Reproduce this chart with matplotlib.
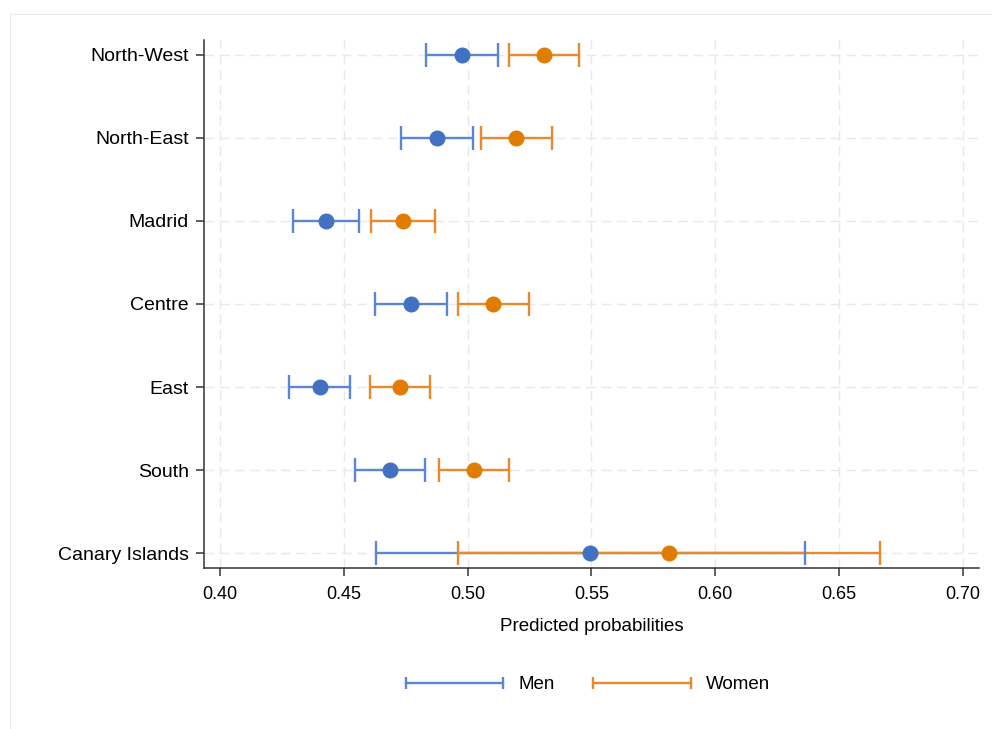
import numpy as np
import matplotlib.pyplot as plt
import matplotlib as mpl
from matplotlib.lines import Line2D
from matplotlib.patches import Rectangle

mpl.rcParams.update({
    "font.family": ["Liberation Sans", "DejaVu Sans"],
    "font.size": 13.5,
    "axes.linewidth": 1.1,
    "axes.edgecolor": "#333333",
})

regions = ["North-West", "North-East", "Madrid", "Centre", "East", "South", "Canary Islands"]

men_est = [0.4978, 0.4875, 0.4428, 0.4771, 0.4404, 0.4685, 0.5494]
men_lo = [0.4833, 0.4730, 0.4294, 0.4627, 0.4280, 0.4544, 0.4630]
men_hi = [0.5124, 0.5020, 0.4561, 0.4915, 0.4526, 0.4828, 0.6362]

women_est = [0.5308, 0.5195, 0.4740, 0.5103, 0.4727, 0.5026, 0.5813]
women_lo = [0.5168, 0.5053, 0.4608, 0.4961, 0.4604, 0.4885, 0.4961]
women_hi = [0.5451, 0.5339, 0.4869, 0.5246, 0.4849, 0.5168, 0.6665]

xticks = [0.40, 0.45, 0.50, 0.55, 0.60, 0.65, 0.70]

BLUE_LINE, BLUE_DOT = "#5B86D1", "#4271C4"
ORANGE_LINE, ORANGE_DOT = "#E88A2C", "#E07C00"

fig = plt.figure(figsize=(9.92, 7.29), dpi=100)
ax = fig.add_axes([0.2056, 0.2209, 0.7813, 0.7242])

# faint outer frame
fig.patches.append(Rectangle((10 / 992, -0.05), 1.2, 1 - 14 / 729 + 0.05,
                             transform=fig.transFigure, fill=False,
                             edgecolor="#E4ECEC", linewidth=0.8))

y = np.arange(len(regions))

series = [
    (men_est, men_lo, men_hi, BLUE_LINE, BLUE_DOT),
    (women_est, women_lo, women_hi, ORANGE_LINE, ORANGE_DOT),
]
for k, (est, lo, hi, lc, dc) in enumerate(series):
    est = np.array(est)
    err = np.vstack([est - np.array(lo), np.array(hi) - est])
    eb = ax.errorbar(est, y, xerr=err, fmt="none", ecolor=lc,
                     elinewidth=1.7, capsize=8.5, capthick=1.7, zorder=2 + 0.1 * k)
    for cap in eb[1]:
        cap.set_zorder(3)
for k, (est, lo, hi, lc, dc) in enumerate(series):
    ax.plot(est, y, "o", color=dc, markersize=10.5, zorder=4 + 0.1 * k)

ax.set_yticks(y)
ax.set_yticklabels(regions, fontsize=14)
ax.set_ylim(6.18, -0.18)
ax.set_xticks(xticks)
ax.set_xticklabels([f"{t:.2f}" for t in xticks], fontsize=13)
ax.set_xlim(0.3935, 0.7065)
ax.set_xlabel("Predicted probabilities", fontsize=13.5, labelpad=11)

ax.tick_params(axis="y", length=6, width=1.1, color="#333333", pad=5)
ax.tick_params(axis="x", length=6, width=1.1, color="#333333", pad=7)
ax.grid(True, color="#E9E9E9", linestyle=(0, (7, 4)), linewidth=1.0, zorder=0)
ax.set_axisbelow(True)
for s in ("top", "right"):
    ax.spines[s].set_visible(False)

handles = [
    Line2D([0], [0], color=BLUE_LINE, lw=1.7, marker="|", markersize=8.5,
           markeredgewidth=1.7, label="Men"),
    Line2D([0], [0], color=ORANGE_LINE, lw=1.7, marker="|", markersize=8.5,
           markeredgewidth=1.7, label="Women"),
]
fig.legend(handles=handles, loc="center", bbox_to_anchor=(0.590, 0.061),
           ncol=2, frameon=False, numpoints=2, handlelength=5.8,
           handletextpad=0.5, columnspacing=1.76, fontsize=13.5)

fig.savefig("out.png", dpi=100)
